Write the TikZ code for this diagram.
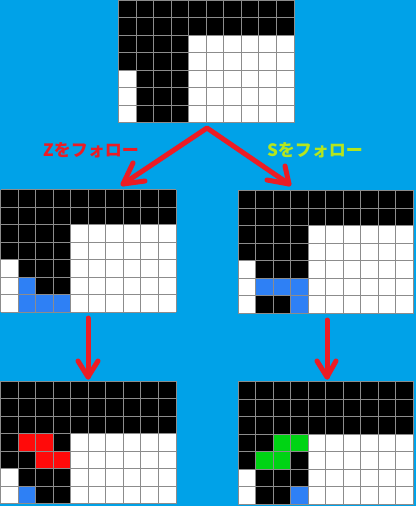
\documentclass[tikz,border=0pt]{standalone}
\usepackage{fontspec}
\newfontfamily\jp{Noto Sans CJK JP}
\definecolor{bg}{HTML}{00A2E8}
\definecolor{pen}{HTML}{EC1C24}
\definecolor{lime}{HTML}{B5E61D}
\definecolor{cellblue}{HTML}{2E80F5}
\definecolor{cellred}{HTML}{FF0A0A}
\definecolor{cellgreen}{HTML}{00D414}
\definecolor{gridgray}{HTML}{8C8C8C}
\tikzset{
  redpen/.style={draw=pen, line width=5pt, line cap=round, line join=round},
  label/.style={font=\jp\bfseries\fontsize{17}{17}\selectfont, inner sep=0pt},
}
% #1 x0, #2 y0, #3 number of full black rows, #4 coloured cells col/row/colour
\newcommand\drawboard[4]{%
  \begin{scope}[shift={(#1,#2)}, x=17.55pt, y=-17.55pt]
    \fill[white] (0,0) rectangle (10,7);
    \fill[black] (0,0) rectangle (10,#3);
    \pgfmathtruncatemacro\rb{#3+2}
    \fill[black] (0,#3) rectangle (4,\rb);
    \fill[black] (1,\rb) rectangle (4,7);
    \foreach \cc/\rr/\col in {#4} {\fill[\col] (\cc,\rr) rectangle ++(1,1);}
    \foreach \i in {0,...,10} {\draw[gridgray, line width=1pt] (\i,0) -- (\i,7);}
    \foreach \j in {0,...,7} {\draw[gridgray, line width=1pt] (0,\j) -- (10,\j);}
  \end{scope}}
\begin{document}
\begin{tikzpicture}[x=1pt,y=-1pt]
\fill[bg] (0,0) rectangle (416,506);
\useasboundingbox (0,0) rectangle (416,506);

\drawboard{118.5}{0}{2}{}
\drawboard{0.5}{189.5}{2}{1/5/cellblue,1/6/cellblue,2/6/cellblue,3/6/cellblue}
\drawboard{238}{190.5}{2}{1/5/cellblue,2/5/cellblue,3/5/cellblue,3/6/cellblue}
\drawboard{0.5}{381}{3}{1/3/cellred,2/3/cellred,2/4/cellred,3/4/cellred,1/6/cellblue}
\drawboard{238}{381.5}{3}{2/3/cellgreen,3/3/cellgreen,1/4/cellgreen,2/4/cellgreen,3/6/cellblue}

% arrow coordinates
\coordinate (apex) at (207,128);
\coordinate (ltip) at (123,184);
\coordinate (la1) at (133,163);
\coordinate (la2) at (145,181);
\coordinate (rtip) at (289,184);
\coordinate (ra1) at (285,166);
\coordinate (ra2) at (267,180);
\coordinate (dlt) at (88,318);
\coordinate (dltip) at (88,377);
\coordinate (dla1) at (78,361);
\coordinate (dla2) at (98,361);
\coordinate (drt) at (327,320);
\coordinate (drtip) at (327,377);
\coordinate (dra1) at (317,361);
\coordinate (dra2) at (336,361);

\draw[redpen] (ltip) -- (apex) -- (rtip);
\draw[redpen] (la1) -- (ltip) -- (la2);
\draw[redpen] (ra1) -- (rtip) -- (ra2);
\draw[redpen] (dlt) -- (dltip);
\draw[redpen] (dla1) -- (dltip) -- (dla2);
\draw[redpen] (drt) -- (drtip);
\draw[redpen] (dra1) -- (drtip) -- (dra2);

\node[label, text=pen] (zlab) at (91,150) {Zをフォロー};
\node[label, text=lime] (slab) at (315,150) {Sをフォロー};
\end{tikzpicture}
\end{document}
